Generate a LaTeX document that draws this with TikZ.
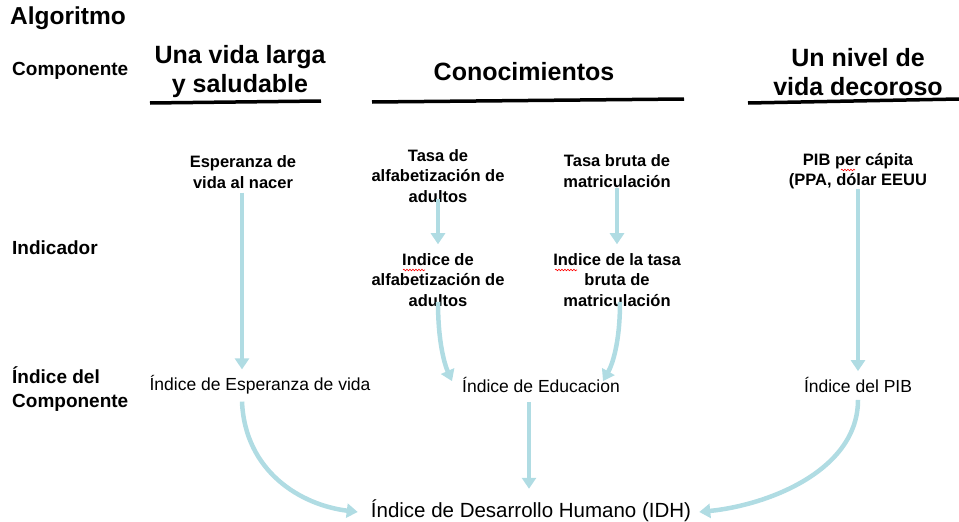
\documentclass[tikz,border=0pt]{standalone}
\usepackage{fontspec}
\setmainfont{Liberation Sans}
\usetikzlibrary{arrows.meta,decorations.pathmorphing}
\definecolor{arrowblue}{RGB}{176,220,227}
\begin{document}
\begin{tikzpicture}[x=1pt,y=-1pt,
  title/.style={font=\bfseries\fontsize{24.5}{28}\selectfont, anchor=west, inner sep=0pt},
  rowlab/.style={font=\bfseries\fontsize{19}{24}\selectfont, anchor=west, align=left, inner sep=0pt},
  head/.style={font=\bfseries\fontsize{25}{29}\selectfont, align=center, inner sep=0pt},
  ind/.style={font=\bfseries\fontsize{16.5}{20.5}\selectfont, align=center, inner sep=0pt},
  idx/.style={font=\fontsize{17.5}{20}\selectfont, align=center, inner sep=0pt},
  idh/.style={font=\fontsize{20.5}{24}\selectfont, align=center, inner sep=0pt},
  rule/.style={line width=3.5pt, black},
  flow/.style={draw=arrowblue, line width=4.5pt, -{Triangle[width=14pt,length=11pt]}},
  squig/.style={red, line width=0.6pt, decorate, decoration={snake, amplitude=0.8pt, segment length=3pt}}
]
\useasboundingbox (0,0) rectangle (959,522);

% titles and row labels
\node[title] (alg) at (10,18) {Algoritmo};
\node[rowlab] (comp) at (12,71) {Componente};
\node[rowlab] (indl) at (12,248) {Indicador};
\node[rowlab] (icomp) at (12,389) {Índice del\\Componente};

% component headers
\node[head] (h1) at (240,72) {Una vida larga\\y saludable};
\node[head] (h2) at (524,72) {Conocimientos};
\node[head] (h3) at (858,72) {Un nivel de\\vida decoroso};
\coordinate (u1a) at (150,103); \coordinate (u1b) at (321,101);
\coordinate (u2a) at (372,102); \coordinate (u2b) at (684,99);
\coordinate (u3a) at (748,103); \coordinate (u3b) at (959,99);
\draw[rule] (u1a) -- (u1b);
\draw[rule] (u2a) -- (u2b);
\draw[rule] (u3a) -- (u3b);

% indicators
\node[ind] (esp) at (243,172) {Esperanza de\\vida al nacer};
\node[ind] (alf) at (438,176) {Tasa de\\alfabetización de\\adultos};
\node[ind] (tbm) at (617,171) {Tasa bruta de\\matriculación};
\node[ind] (pib) at (858,171) {PIB per cápita\\(PPA, dólar EEUU};
\node[ind] (ialf) at (438,280) {Indice de\\alfabetización de\\adultos};
\node[ind] (itbm) at (617,280) {Indice de la tasa\\bruta de\\matriculación};

% spelling squiggles
\coordinate (s1a) at (403,270); \coordinate (s1b) at (425,270);
\coordinate (s2a) at (555,270); \coordinate (s2b) at (577,270);
\coordinate (s3a) at (841,170); \coordinate (s3b) at (855,170);
\draw[squig] (s1a) -- (s1b);
\draw[squig] (s2a) -- (s2b);
\draw[squig] (s3a) -- (s3b);

% component indices
\node[idx] (iesp) at (260,385) {Índice de Esperanza de vida};
\node[idx] (iedu) at (541,385) {Índice de Educacion};
\node[idx] (ipib) at (858,385) {Índice del PIB};
\node[idh] (idh) at (531,511) {Índice de Desarrollo Humano (IDH)};

% connectors
\draw[flow] ([xshift=-1pt,yshift=-4pt]esp.south) -- ([xshift=-1pt,yshift=6pt]esp.south |- iesp.north);
\draw[flow] ([yshift=4pt]alf.south) -- ([yshift=9pt]ialf.north);
\draw[flow] (tbm.south -| itbm.north) -- ([yshift=9pt]itbm.north);
\draw[flow] (pib.south) -- ([yshift=6pt]pib.south |- ipib.north);
\draw[flow] ([yshift=5pt]ialf.south) .. controls ([yshift=-37pt]ialf.south) and ([xshift=-17pt,yshift=12pt]iedu.north west) .. ([xshift=-10pt,yshift=-4pt]iedu.north west);
\draw[flow] ([xshift=3pt,yshift=5pt]itbm.south) .. controls ([xshift=3pt,yshift=-37pt]itbm.south) and ([xshift=-8pt,yshift=12pt]iedu.north east) .. ([xshift=-17pt,yshift=-4pt]iedu.north east);
\draw[flow] ([xshift=-2pt,yshift=-9pt]iedu.south -| idh.north) -- ([xshift=-2pt,yshift=11pt]idh.north);
\draw[flow] ([xshift=-18pt,yshift=-7pt]iesp.south) .. controls ([xshift=-15pt,yshift=-77pt]iesp.south) and ([xshift=-70pt,yshift=6pt]idh.west) .. ([xshift=-13pt,yshift=-1pt]idh.west);
\draw[flow] ([yshift=-7pt]ipib.south) .. controls ([yshift=-77pt]ipib.south) and ([xshift=78pt,yshift=6pt]idh.east) .. ([xshift=8pt,yshift=-1pt]idh.east);
\end{tikzpicture}
\end{document}
